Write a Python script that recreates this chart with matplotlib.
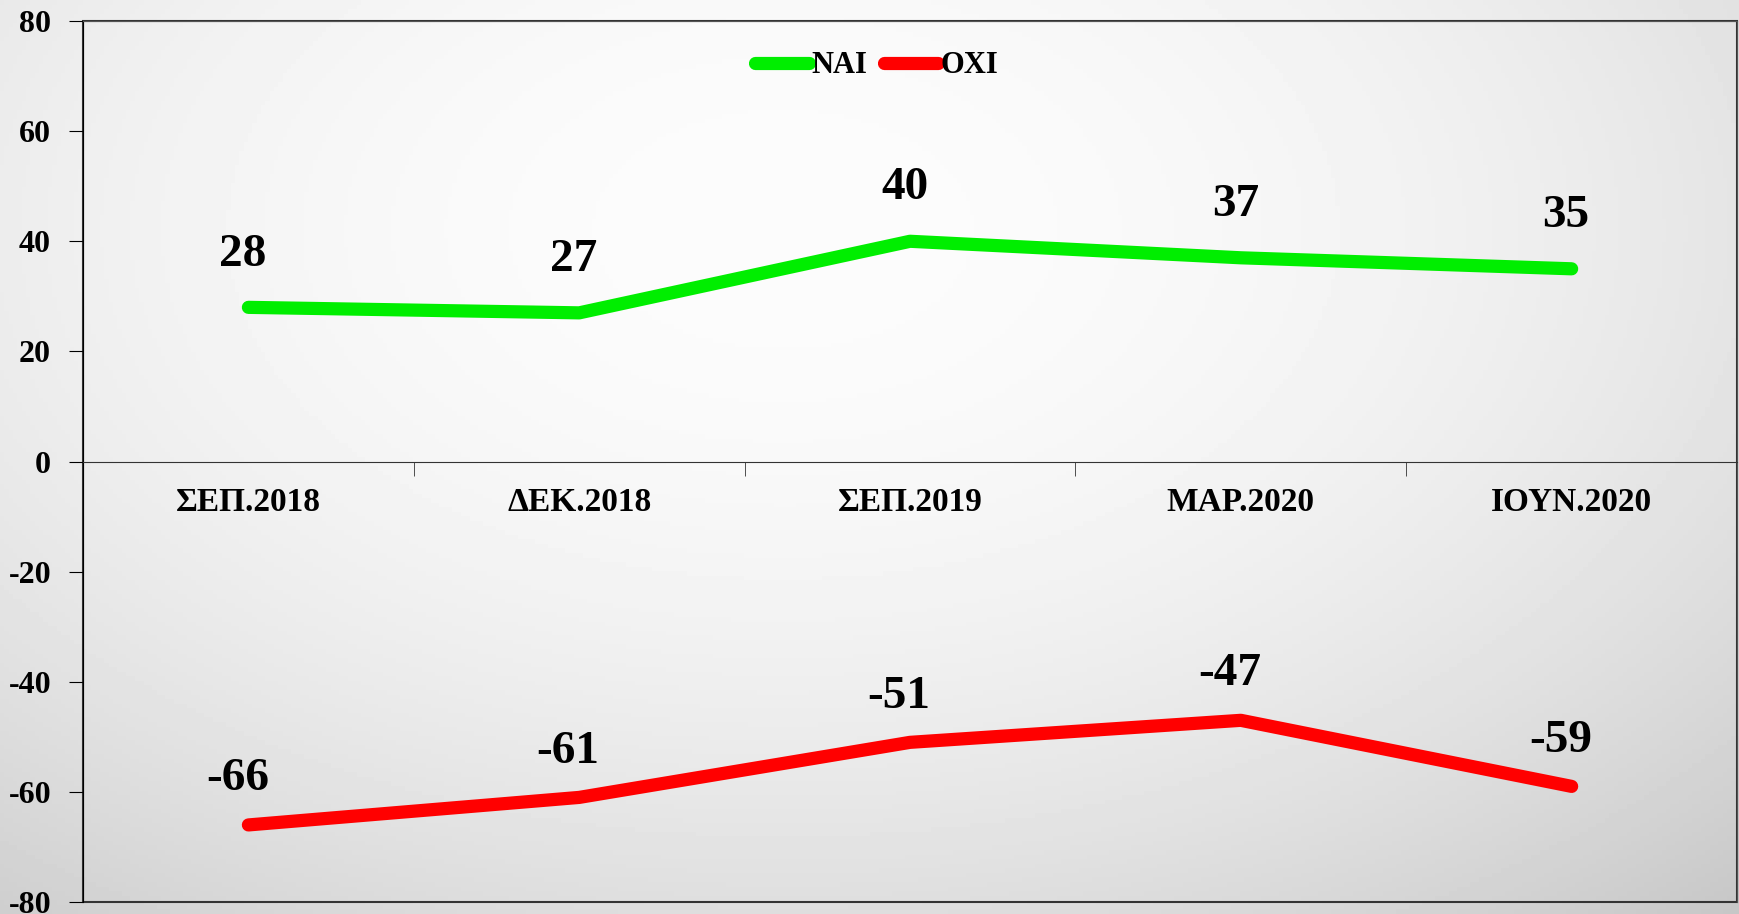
import numpy as np
import matplotlib
matplotlib.use("Agg")
import matplotlib.pyplot as plt
from matplotlib.patches import Rectangle

# data
periods = ["ΣΕΠ.2018", "ΔΕΚ.2018", "ΣΕΠ.2019", "ΜΑΡ.2020", "ΙΟΥΝ.2020"]
nai = [28, 27, 40, 37, 35]
oxi = [-66, -61, -51, -47, -59]
series_names = ["ΝΑΙ", "ΟΧΙ"]
yticks = [-80, -60, -40, -20, 0, 20, 40, 60, 80]

plt.rcParams['font.family'] = ['Liberation Serif', 'DejaVu Serif']
plt.rcParams['font.weight'] = 'bold'
plt.rcParams['axes.unicode_minus'] = False

fig = plt.figure(figsize=(17.4, 9.14), dpi=100)

# soft grey background gradient
bg = fig.add_axes([0, 0, 1, 1], zorder=-5)
yy, xx = np.mgrid[0:1:200j, 0:1:400j]
d = np.sqrt(((xx - 0.45) / 0.75) ** 2 + ((yy - 0.25) / 0.9) ** 2)
shade = 0.988 - 0.17 * np.clip(d, 0, 1.3) ** 2
bg.imshow(shade, cmap='gray', vmin=0, vmax=1, aspect='auto', extent=[0, 1, 1, 0])
bg.axis('off')

ax = fig.add_axes([0.0477, 0.0131, 0.9506, 0.9639])
ax.set_facecolor('none')
x = np.arange(len(periods))

ax.plot(x, nai, color='#00ee00', lw=9.5, solid_capstyle='round', label=series_names[0], zorder=3)
ax.plot(x, oxi, color='#ff0000', lw=9.5, solid_capstyle='round', label=series_names[1], zorder=3)

for xi, v in zip(x, nai):
    ax.annotate(str(v), (xi, v), xytext=(-4, 38), textcoords='offset points',
                ha='center', va='center', fontsize=34, fontweight='bold')
for xi, v in zip(x, oxi):
    ax.annotate(str(v), (xi, v), xytext=(-8, 33), textcoords='offset points',
                ha='center', va='center', fontsize=34, fontweight='bold')

ax.set_xlim(-0.5, len(periods) - 0.5)
ax.set_ylim(-80, 80)
ax.set_yticks(yticks)
ax.set_xticks(x)
ax.set_xticklabels(periods)
ax.set_xticks(np.arange(0.5, len(periods) - 0.5), minor=True)

ax.spines['bottom'].set_position(('data', 0))
ax.spines['bottom'].set_color('#333333')
ax.spines['left'].set_color('black')
ax.spines['top'].set_color('#555555')
ax.spines['right'].set_color('#555555')
ax.add_patch(Rectangle((0, 0), 1, 1, transform=ax.transAxes, fill=False,
                       edgecolor='#333333', lw=1.5, clip_on=False))

ax.tick_params(axis='x', which='major', length=0, pad=18, labelsize=24)
ax.tick_params(axis='x', which='minor', length=10, direction='out', color='#333333')
ax.tick_params(axis='y', length=10, direction='out', pad=13, labelsize=23)
for lab in ax.get_xticklabels() + ax.get_yticklabels():
    lab.set_fontweight('bold')

leg = ax.legend(loc='center', bbox_to_anchor=(0.48, 0.949), ncol=2, frameon=False,
                fontsize=22, handlelength=1.75, handletextpad=0.1, columnspacing=0.55)
for t in leg.get_texts():
    t.set_fontweight('bold')

fig.savefig('out.png', dpi=100)
